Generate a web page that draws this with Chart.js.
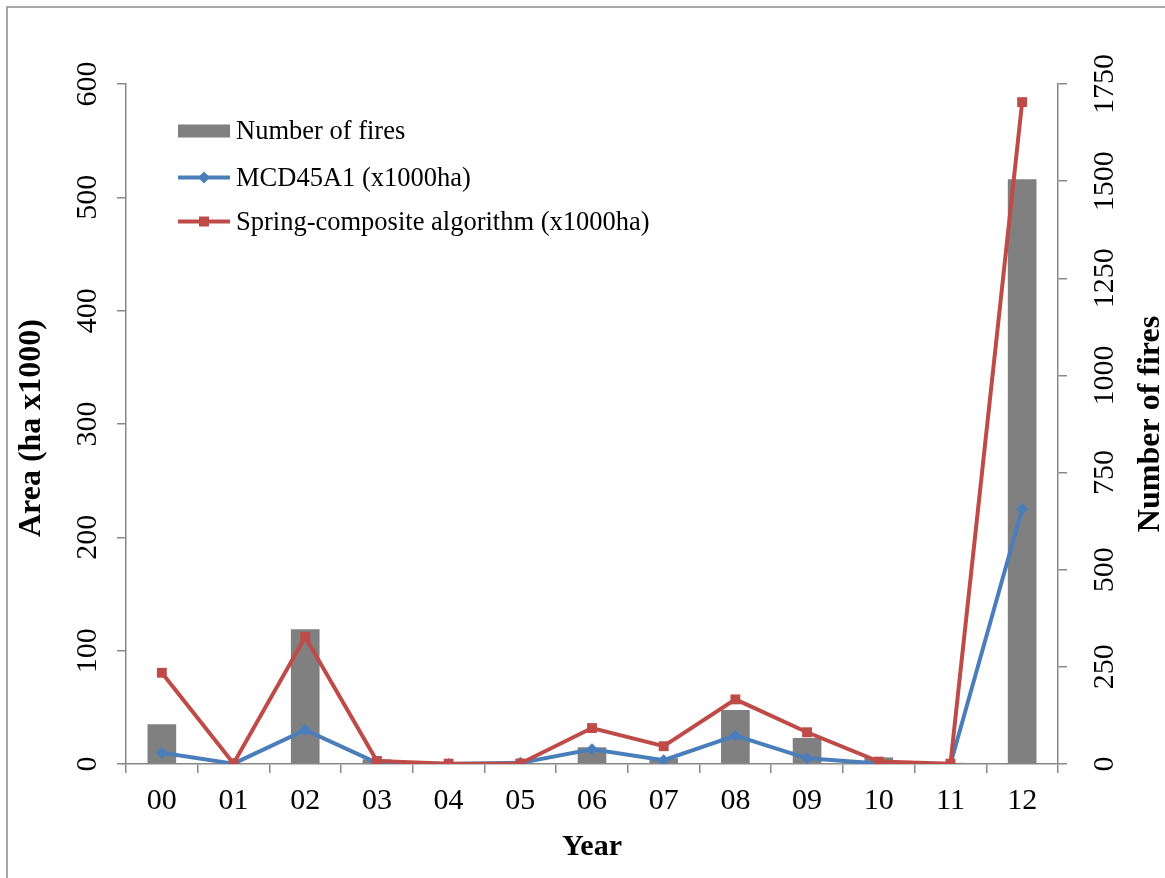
<!DOCTYPE html>
<html>
<head>
<meta charset="utf-8">
<script src="https://cdn.jsdelivr.net/npm/chart.js@4.4.1/dist/chart.umd.min.js"></script>
<style>
  html, body { margin: 0; padding: 0; background: #fff; }
  #chart { display: block; }
</style>
</head>
<body>
<canvas id="chart" width="1165" height="878"></canvas>
<script>
const years = ['00', '01', '02', '03', '04', '05', '06', '07', '08', '09', '10', '11', '12'];
const numberOfFires = [102, 2, 347, 12, 1, 3, 43, 15, 139, 67, 17, 3, 1505];
const mcd45a1 = [10, 0.3, 30, 1, 0, 1, 13, 3.3, 25, 5, 0.5, 0, 225];
const springComposite = [80.5, 0.5, 112, 2.7, 0.3, 0.5, 31.7, 15.7, 57, 28, 2.1, 0.3, 584];
const areaTicks = [0, 100, 200, 300, 400, 500, 600];
const fireTicks = [0, 250, 500, 750, 1000, 1250, 1500, 1750];

const FONT = '"Liberation Serif", "Times New Roman", serif';
const GRAY_AXIS = '#888888';
const BAR_COLOR = '#808080';
const BLUE = '#4A7EBB';
const RED = '#BE4B48';

const legendItems = [
  { label: 'Number of fires', kind: 'bar', color: BAR_COLOR },
  { label: 'MCD45A1 (x1000ha)', kind: 'diamond', color: BLUE },
  { label: 'Spring-composite algorithm (x1000ha)', kind: 'square', color: RED },
];

function rotatedText(ctx, text, x, y, font) {
  ctx.save();
  ctx.translate(x, y);
  ctx.rotate(-Math.PI / 2);
  ctx.font = font;
  ctx.fillStyle = '#000';
  ctx.textAlign = 'center';
  ctx.textBaseline = 'middle';
  ctx.fillText(text, 0, 0);
  ctx.restore();
}

const decorations = {
  id: 'decorations',
  afterDraw(chart) {
    const ctx = chart.ctx;
    const area = chart.chartArea;
    const yl = chart.scales.y;
    const yr = chart.scales.y1;

    // outer frame
    ctx.save();
    ctx.strokeStyle = '#8c8c8c';
    ctx.lineWidth = 1.5;
    ctx.strokeRect(7, 7, 3000, 3000);
    ctx.restore();

    // rotated tick labels
    areaTicks.forEach(v => rotatedText(ctx, String(v), 88, yl.getPixelForValue(v), '30px ' + FONT));
    fireTicks.forEach(v => rotatedText(ctx, String(v), 1105, yr.getPixelForValue(v), '30px ' + FONT));

    // axis titles
    const midY = (area.top + area.bottom) / 2;
    rotatedText(ctx, 'Area (ha x1000)', 32, midY + 4, 'bold 32px ' + FONT);
    rotatedText(ctx, 'Number of fires', 1151, midY, 'bold 32px ' + FONT);

    // legend
    const baselines = [139, 185.5, 229.5];
    legendItems.forEach((item, i) => {
      const cy = baselines[i] - 8;
      ctx.save();
      if (item.kind === 'bar') {
        ctx.fillStyle = item.color;
        ctx.fillRect(178, cy - 6.5, 52, 13);
      } else {
        ctx.strokeStyle = item.color;
        ctx.lineWidth = 4;
        ctx.beginPath();
        ctx.moveTo(178, cy);
        ctx.lineTo(230, cy);
        ctx.stroke();
        ctx.fillStyle = item.color;
        ctx.beginPath();
        if (item.kind === 'diamond') {
          ctx.moveTo(204, cy - 6);
          ctx.lineTo(210, cy);
          ctx.lineTo(204, cy + 6);
          ctx.lineTo(198, cy);
          ctx.closePath();
        } else {
          ctx.rect(199, cy - 5, 10, 10);
        }
        ctx.fill();
      }
      ctx.font = '26.5px ' + FONT;
      ctx.fillStyle = '#000';
      ctx.textAlign = 'left';
      ctx.textBaseline = 'alphabetic';
      ctx.fillText(item.label, 236, baselines[i]);
      ctx.restore();
    });
  }
};

new Chart(document.getElementById('chart'), {
  type: 'bar',
  data: {
    labels: years,
    datasets: [
      {
        type: 'line',
        label: 'Spring-composite algorithm (x1000ha)',
        data: springComposite,
        yAxisID: 'y',
        borderColor: RED,
        backgroundColor: RED,
        borderWidth: 4,
        pointStyle: 'rect',
        pointRadius: 7,
        pointBorderWidth: 0,
        tension: 0,
        order: 1
      },
      {
        type: 'line',
        label: 'MCD45A1 (x1000ha)',
        data: mcd45a1,
        yAxisID: 'y',
        borderColor: BLUE,
        backgroundColor: BLUE,
        borderWidth: 4,
        pointStyle: 'rectRot',
        pointRadius: 6,
        pointBorderWidth: 0,
        tension: 0,
        order: 2
      },
      {
        type: 'bar',
        label: 'Number of fires',
        data: numberOfFires,
        yAxisID: 'y1',
        backgroundColor: BAR_COLOR,
        barPercentage: 0.4,
        categoryPercentage: 1,
        order: 3
      }
    ]
  },
  options: {
    responsive: false,
    animation: false,
    devicePixelRatio: 1,
    layout: { padding: { left: 117, right: 98, top: 84, bottom: 0 } },
    plugins: {
      legend: { display: false },
      tooltip: { enabled: false },
      title: { display: false }
    },
    scales: {
      x: {
        offset: true,
        grid: { offset: true, drawOnChartArea: false, drawTicks: true, tickLength: 9, color: GRAY_AXIS, lineWidth: 1.5 },
        border: { color: GRAY_AXIS, width: 1.5 },
        ticks: { font: { family: FONT, size: 30 }, color: '#000', padding: 10, maxRotation: 0, autoSkip: false },
        title: { display: true, text: 'Year', color: '#000', font: { family: FONT, size: 30, weight: 'bold' }, padding: { top: 0, bottom: 13 } }
      },
      y: {
        position: 'left',
        min: 0,
        max: 600,
        grid: { drawOnChartArea: false, drawTicks: true, tickLength: 9, color: GRAY_AXIS, lineWidth: 1.5 },
        border: { color: GRAY_AXIS, width: 1.5 },
        ticks: { display: false, stepSize: 100 }
      },
      y1: {
        position: 'right',
        min: 0,
        max: 1750,
        grid: { drawOnChartArea: false, drawTicks: true, tickLength: 9, color: GRAY_AXIS, lineWidth: 1.5 },
        border: { color: GRAY_AXIS, width: 1.5 },
        ticks: { display: false, stepSize: 250 }
      }
    }
  },
  plugins: [decorations]
});
</script>
</body>
</html>
